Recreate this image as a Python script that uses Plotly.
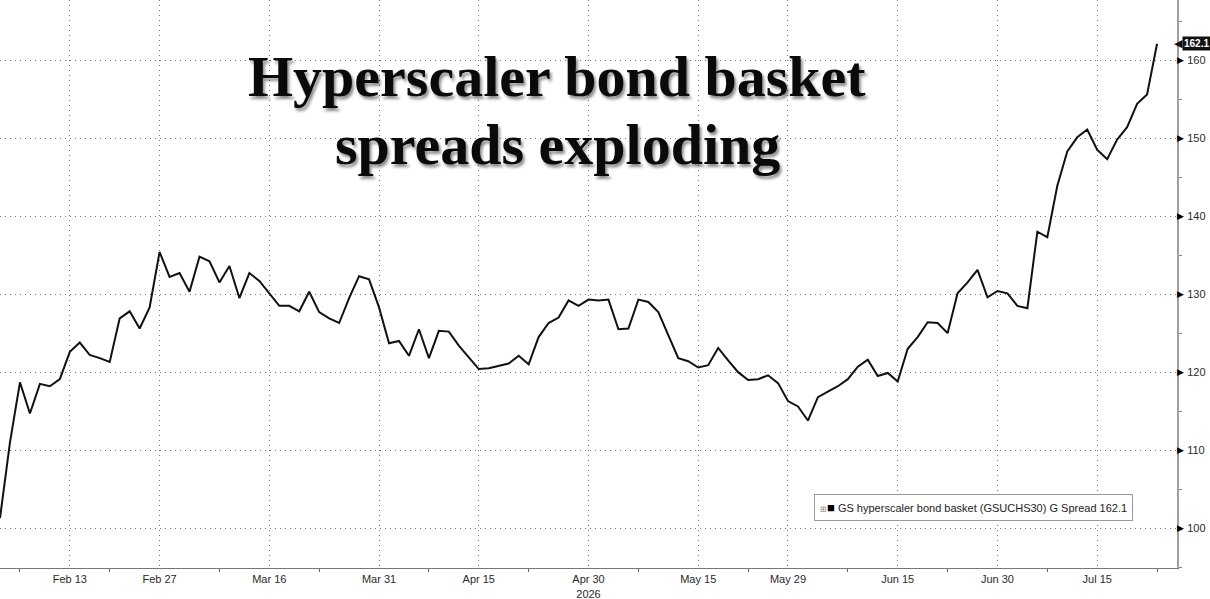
import plotly.graph_objects as go

# ---------------- data ----------------
DATES = [
    "2026-02-04", "2026-02-05", "2026-02-06", "2026-02-09", "2026-02-10", "2026-02-11", "2026-02-12", "2026-02-13",
    "2026-02-17", "2026-02-18", "2026-02-19", "2026-02-20", "2026-02-23", "2026-02-24", "2026-02-25", "2026-02-26",
    "2026-02-27",
    "2026-03-02", "2026-03-03", "2026-03-04", "2026-03-05", "2026-03-06", "2026-03-09", "2026-03-10", "2026-03-11",
    "2026-03-12", "2026-03-13", "2026-03-16", "2026-03-17", "2026-03-18", "2026-03-19", "2026-03-20", "2026-03-23",
    "2026-03-24", "2026-03-25", "2026-03-26", "2026-03-27", "2026-03-30", "2026-03-31",
    "2026-04-01", "2026-04-02", "2026-04-06", "2026-04-07", "2026-04-08", "2026-04-09", "2026-04-10", "2026-04-13",
    "2026-04-14", "2026-04-15", "2026-04-16", "2026-04-17", "2026-04-20", "2026-04-21", "2026-04-22", "2026-04-23",
    "2026-04-24", "2026-04-27", "2026-04-28", "2026-04-29", "2026-04-30",
    "2026-05-01", "2026-05-04", "2026-05-05", "2026-05-06", "2026-05-07", "2026-05-08", "2026-05-11", "2026-05-12",
    "2026-05-13", "2026-05-14", "2026-05-15", "2026-05-18", "2026-05-19", "2026-05-20", "2026-05-21", "2026-05-22",
    "2026-05-26", "2026-05-27", "2026-05-28", "2026-05-29",
    "2026-06-01", "2026-06-02", "2026-06-03", "2026-06-04", "2026-06-05", "2026-06-08", "2026-06-09", "2026-06-10",
    "2026-06-11", "2026-06-12", "2026-06-15", "2026-06-16", "2026-06-17", "2026-06-18", "2026-06-22", "2026-06-23",
    "2026-06-24", "2026-06-25", "2026-06-26", "2026-06-29", "2026-06-30",
    "2026-07-01", "2026-07-02", "2026-07-06", "2026-07-07", "2026-07-08", "2026-07-09", "2026-07-10", "2026-07-13",
    "2026-07-14", "2026-07-15", "2026-07-16", "2026-07-17", "2026-07-20", "2026-07-21", "2026-07-22", "2026-07-23",
]

SPREAD = [
    101.3, 111.0, 118.7, 114.7, 118.5, 118.2, 119.1, 122.6,
    123.8, 122.2, 121.8, 121.3, 126.9, 127.8, 125.6, 128.3,
    135.4,
    132.2, 132.7, 130.3, 134.8, 134.2, 131.5, 133.6, 129.5,
    132.7, 131.7, 130.1, 128.5, 128.5, 127.8, 130.3, 127.7,
    126.9, 126.3, 129.5, 132.3, 131.9, 128.3,
    123.7, 124.0, 122.1, 125.5, 121.8, 125.3, 125.2, 123.4,
    121.9, 120.4, 120.5, 120.8, 121.1, 122.1, 121.0, 124.5,
    126.3, 127.0, 129.2, 128.5, 129.3,
    129.2, 129.3, 125.5, 125.6, 129.3, 129.0, 127.7, 124.7,
    121.8, 121.4, 120.6, 120.9, 123.1, 121.5, 120.0, 119.0,
    119.1, 119.6, 118.6, 116.3,
    115.6, 113.8, 116.8, 117.5, 118.2, 119.1, 120.7, 121.6,
    119.5, 119.9, 118.8, 123.0, 124.5, 126.4, 126.3, 125.0,
    130.1, 131.5, 133.1, 129.6, 130.4,
    130.1, 128.5, 128.2, 138.0, 137.3, 143.9, 148.3, 150.1,
    151.1, 148.5, 147.3, 149.8, 151.4, 154.4, 155.6, 162.1,
]

HOLIDAYS = ["2026-02-16", "2026-04-03", "2026-05-25", "2026-06-19", "2026-07-03"]

X_TICK_DATES = ["2026-02-13", "2026-02-27", "2026-03-16", "2026-03-31", "2026-04-15", "2026-04-30",
                "2026-05-15", "2026-05-29", "2026-06-15", "2026-06-30", "2026-07-15"]
X_TICK_LABELS = ["Feb 13", "Feb 27", "Mar 16", "Mar 31", "Apr 15", "Apr 30<br>2026",
                 "May 15", "May 29", "Jun 15", "Jun 30", "Jul 15"]
X_MINOR_DATES = ["2026-02-06", "2026-02-20", "2026-03-09", "2026-03-23", "2026-04-08", "2026-04-22",
                 "2026-05-07", "2026-05-22", "2026-06-08", "2026-06-23", "2026-07-08", "2026-07-23"]
X_RANGE = ["2026-02-04", "2026-07-27"]

Y_TICKS = [100, 110, 120, 130, 140, 150, 160]
Y_RANGE = [94.9, 167.7]

TITLE_LINES = ["Hyperscaler bond basket", "spreads exploding"]
SERIES_NAME = "GS hyperscaler bond basket (GSUCHS30) G Spread"
LAST_VALUE = SPREAD[-1]

# ---------------- layout helpers ----------------
W, H = 1210, 599
ML, MR, MT, MB = 0, 33, 0, 31
PW, PH = W - ML - MR, H - MT - MB


def px(x):
    return (x - ML) / PW


def py(y):
    return 1 - (y - MT) / PH


AXIS_FONT = dict(family="Liberation Sans, Arial, sans-serif", size=11, color="#2a2a2a")
GRID_DASH = "1px,4px"
GRID_COLOR = "#777777"

fig = go.Figure()
fig.add_trace(go.Scatter(
    x=DATES, y=SPREAD, mode="lines",
    line=dict(color="#111111", width=2),
    showlegend=False, hoverinfo="x+y",
))

fig.update_layout(
    width=W, height=H,
    margin=dict(l=ML, r=MR, t=MT, b=MB, pad=0, autoexpand=False),
    paper_bgcolor="white", plot_bgcolor="white",
    xaxis=dict(
        type="date", automargin=False,
        range=X_RANGE,
        rangebreaks=[dict(bounds=["sat", "mon"]), dict(values=HOLIDAYS)],
        tickmode="array", tickvals=X_TICK_DATES, ticktext=X_TICK_LABELS,
        ticks="", ticklabelstandoff=1,
        showgrid=True, gridcolor=GRID_COLOR, griddash=GRID_DASH, gridwidth=1,
        minor=dict(tickmode="array", tickvals=X_MINOR_DATES, ticks="outside",
                   ticklen=3, tickcolor="#666", showgrid=False),
        showline=True, linecolor="#777", linewidth=1,
        tickfont=AXIS_FONT, zeroline=False, fixedrange=True,
    ),
    yaxis=dict(
        side="right", range=Y_RANGE, automargin=False,
        tickmode="array", tickvals=Y_TICKS, ticktext=[str(v) for v in Y_TICKS],
        ticks="", ticklabelstandoff=6,
        showgrid=True, gridcolor=GRID_COLOR, griddash=GRID_DASH, gridwidth=1,
        minor=dict(dtick=5, tick0=95, ticks="outside", ticklen=3, tickcolor="#888", showgrid=False),
        showline=True, linecolor="#a0a0a0", linewidth=2,
        tickfont=AXIS_FONT, zeroline=False, fixedrange=True,
    ),
)

# small black arrow markers on the right axis at each labelled value
for v in Y_TICKS:
    fig.add_annotation(
        xref="paper", yref="y", x=px(1176), y=v, xanchor="left", yanchor="middle",
        text="▶", showarrow=False, borderpad=0,
        font=dict(family="DejaVu Sans", size=9, color="#000000"),
    )

title_font = dict(family="Liberation Serif, Times New Roman, serif", size=58, color="#0a0a0a",
                  weight=700, shadow="2px 3px 3px rgba(0,0,0,0.45)")
fig.add_annotation(xref="paper", yref="paper", x=px(557), y=py(76), xanchor="center", yanchor="middle",
                   text=TITLE_LINES[0], showarrow=False, font=title_font)
fig.add_annotation(xref="paper", yref="paper", x=px(557), y=py(144), xanchor="center", yanchor="middle",
                   text=TITLE_LINES[1], showarrow=False, font=title_font)

# legend box
fig.add_annotation(
    xref="paper", yref="paper", x=px(973), y=py(507), xanchor="center", yanchor="middle",
    text=("<span style='font-size:8px;color:#888'>⊞</span>"
          "<span style='font-size:13px;color:#000'>■</span> "
          f"{SERIES_NAME} {LAST_VALUE:.1f}"),
    showarrow=False, font=dict(family="Liberation Sans, Arial, sans-serif", size=11, color="#222"),
    bgcolor="white", bordercolor="#9a9a9a", borderwidth=1, borderpad=5,
)

# last value tag on the right axis
fig.add_annotation(
    xref="paper", yref="y", x=px(1182), y=LAST_VALUE, xanchor="left", yanchor="middle",
    text=f"<b>{LAST_VALUE:.1f}</b>", showarrow=False,
    font=dict(family="Liberation Sans, Arial, sans-serif", size=10, color="white"),
    bgcolor="#111111", borderpad=1,
)
fig.add_annotation(
    xref="paper", yref="y", x=px(1184), y=LAST_VALUE, xanchor="right", yanchor="middle",
    text="◀", showarrow=False, borderpad=0,
    font=dict(family="DejaVu Sans", size=11, color="#111111"),
)

fig.write_html(
    "out.html",
    config={"displayModeBar": False},
    post_script="document.body.style.margin='0';document.body.style.overflow='hidden';",
)
